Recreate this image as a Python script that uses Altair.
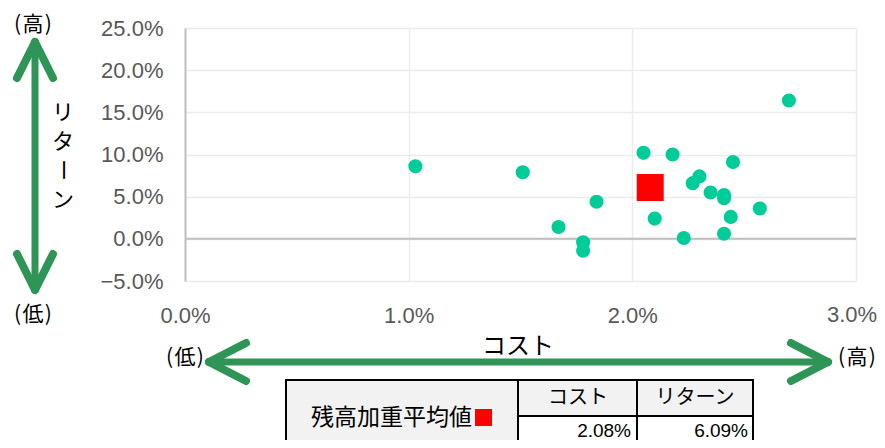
import altair as alt
import pandas as pd

# ---- data ----
cost = [1.03, 1.51, 1.84, 1.67, 1.78, 1.78, 2.05, 2.18, 2.45, 2.30,
        2.27, 2.35, 2.41, 2.41, 2.10, 2.44, 2.57, 2.23, 2.41, 2.70]
ret = [8.6, 7.9, 4.4, 1.4, -0.4, -1.4, 10.2, 10.0, 9.1, 7.4,
       6.6, 5.5, 5.2, 4.8, 2.4, 2.6, 3.6, 0.1, 0.6, 16.4]
avg_cost = [2.08]
avg_ret = [6.09]
x_ticks = [0, 1, 2, 3]
y_ticks = [-5, 0, 5, 10, 15, 20, 25]
table_header = ["コスト", "リターン"]
table_values = ["2.08%", "6.09%"]
table_label = "残高加重平均値"

df = pd.DataFrame({"cost": cost, "ret": ret})
avg = pd.DataFrame({"cost": avg_cost, "ret": avg_ret})
zero = pd.DataFrame({"y": [0]})
one = pd.DataFrame({"k": [0]})
last_tick = pd.DataFrame({"v": [x_ticks[-1]]})

# layout (page pixel positions of plot area)
X0, Y0, W, H = 185, 28, 671, 253
TOTAL_W, TOTAL_H = 869, 432
def PX(v):
    return v - X0
def PY(v):
    return v - Y0

GREEN = "#2F9557"
DOT = "#00CC99"
JP = "Noto Sans CJK JP"
NUM = "Liberation Sans"
HS = "\u200a"
LABEL_GRAY = "#595959"

xs = alt.Scale(domain=[0, 3], nice=False, zero=False)
ys = alt.Scale(domain=[-5, 25], nice=False, zero=False)

xaxis = alt.Axis(values=x_ticks,
                 labelExpr=f"datum.value == {x_ticks[-1]} ? '' : format(datum.value, '.1f') + '%'",
                 grid=True, gridColor="#ececec", gridWidth=1.5, domain=False,
                 ticks=False, labelPadding=24, labelFontSize=22, labelColor=LABEL_GRAY,
                 labelFont=NUM, labelFlush=False, title=None)
yaxis = alt.Axis(values=y_ticks, labelExpr="format(datum.value, '.1f') + '%'",
                 grid=True, gridColor="#ececec", gridWidth=1.5, domain=True,
                 domainColor="#bfbfbf", domainWidth=2,
                 ticks=False, labelPadding=22, labelFontSize=22, labelColor=LABEL_GRAY,
                 labelFont=NUM, labelFlush=False, title=None)

base = alt.Chart(df).mark_circle(size=200, opacity=1, color=DOT).encode(
    x=alt.X("cost:Q", scale=xs, axis=xaxis),
    y=alt.Y("ret:Q", scale=ys, axis=yaxis),
)

zero_rule = alt.Chart(zero).mark_rule(color="#bfbfbf", strokeWidth=2).encode(
    y=alt.Y("y:Q", scale=ys)
)

avg_pt = alt.Chart(avg).mark_square(size=729, opacity=1, color="#ff0000").encode(
    x=alt.X("cost:Q", scale=xs),
    y=alt.Y("ret:Q", scale=ys),
)

# last x tick label, nudged in slightly so it stays inside the canvas
last_label = alt.Chart(last_tick).transform_calculate(
    lab="format(datum.v, '.1f') + '%'"
).mark_text(fontSize=22, font=NUM, color=LABEL_GRAY, baseline="top", align="center", dx=-4).encode(
    x=alt.X("v:Q", scale=xs), y=alt.value(H + 24), text="lab:N"
)

layers = [zero_rule, base, avg_pt, last_label]

def seg(x1, y1, x2, y2, w=8):
    return alt.Chart(one).mark_rule(color=GREEN, strokeWidth=w, strokeCap="round").encode(
        x=alt.value(PX(x1)), y=alt.value(PY(y1)),
        x2=alt.value(PX(x2)), y2=alt.value(PY(y2)))

def txt(s, x, y, size=20, font=JP, align="center", color="black", **extra):
    kw = dict(text=s, fontSize=size, font=font, align=align, baseline="middle", color=color)
    kw.update(extra)
    return alt.Chart(one).mark_text(**kw).encode(x=alt.value(PX(x)), y=alt.value(PY(y)))

def box(x1, y1, x2, y2, fill, stroke="black", sw=2):
    return alt.Chart(one).mark_rect(fill=fill, stroke=stroke, strokeWidth=sw).encode(
        x=alt.value(PX(x1)), y=alt.value(PY(y1)),
        x2=alt.value(PX(x2)), y2=alt.value(PY(y2)))

# vertical arrow
layers += [seg(35, 44, 35, 288, 7), seg(35, 42, 17, 78), seg(35, 42, 53, 78),
           seg(35, 290, 17, 254), seg(35, 290, 53, 254)]
# horizontal arrow
layers += [seg(211, 362, 826, 362, 7), seg(209, 362, 246, 343), seg(209, 362, 246, 381),
           seg(828, 362, 791, 343), seg(828, 362, 791, 381)]

hi = "(" + HS + "高" + HS + ")"
lo = "(" + HS + "低" + HS + ")"
# arrow labels
layers += [txt(hi, 33, 25, 21), txt(lo, 33, 315, 21),
           txt("リ", 63, 113, 22), txt("タ", 63, 142, 22),
           txt("ー", 63, 170, 22, angle=90), txt("ン", 63, 200, 22),
           txt("コスト", 518, 347, 24), txt(lo, 185, 358, 21), txt(hi, 857, 358, 21)]

# table
layers += [box(286, 380, 518, 470, "#f2f2f2"),
           box(518, 380, 637, 416, "#f2f2f2"), box(637, 380, 753, 416, "#f2f2f2"),
           box(518, 416, 637, 470, "#ffffff"), box(637, 416, 753, 470, "#ffffff"),
           box(475, 409, 492, 426, "#ff0000", stroke="#ff0000", sw=0),
           txt(table_label, 472, 418, 23, align="right"),
           txt(table_header[0], 578, 398, 20), txt(table_header[1], 695, 398, 20),
           txt(table_values[0], 631, 431, 19, font=NUM, align="right"),
           txt(table_values[1], 748, 431, 19, font=NUM, align="right")]

chart = alt.layer(*layers).properties(
    width=W, height=H,
    autosize=alt.AutoSizeParams(type="none"),
    padding={"left": X0 - 8, "top": Y0 - 8,
             "right": TOTAL_W - (X0 - 8) - W, "bottom": TOTAL_H - (Y0 - 8) - H},
).configure_view(stroke=None)

chart.save("out.html", embed_options={"renderer": "svg", "actions": False})
